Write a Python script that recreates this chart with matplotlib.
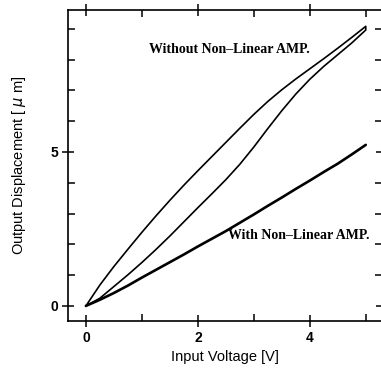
import matplotlib
matplotlib.use("Agg")
import matplotlib.pyplot as plt
from matplotlib.ticker import MultipleLocator, FixedLocator

# Input voltage samples [V]
voltage = [0, 0.25, 0.5, 0.75, 1.0, 1.25, 1.5, 1.75, 2.0, 2.25, 2.5,
           2.75, 3.0, 3.25, 3.5, 3.75, 4.0, 4.25, 4.5, 4.75, 5.0]
# Without non-linear amp: ascending (lower) and descending (upper) branch [um]
without_lower = [0, 0.25, 0.63, 1.01, 1.41, 1.83, 2.27, 2.73, 3.19, 3.64, 4.10,
                 4.60, 5.16, 5.76, 6.34, 6.88, 7.36, 7.78, 8.16, 8.54, 8.96]
without_upper = [0, 0.68, 1.28, 1.84, 2.39, 2.92, 3.43, 3.92, 4.39, 4.85, 5.31,
                 5.77, 6.22, 6.64, 7.02, 7.37, 7.70, 8.03, 8.37, 8.72, 9.08]
# With non-linear amp [um]
with_amp = [0, 0.20, 0.42, 0.66, 0.92, 1.17, 1.42, 1.67, 1.93, 2.18, 2.43,
            2.70, 2.97, 3.25, 3.52, 3.80, 4.07, 4.35, 4.62, 4.92, 5.23]

fig = plt.figure(figsize=(3.81, 3.68), dpi=100)
ax = fig.add_axes([68/381, 1 - 321/368, (382 - 68)/381, (321 - 10)/368])

loop_x = voltage + voltage[::-1]
loop_y = without_lower + without_upper[::-1]
ax.plot(loop_x, loop_y, color="black", lw=1.2, solid_joinstyle="round")
ax.plot(voltage, with_amp, color="black", lw=1.9, solid_capstyle="round")

ax.set_xlim(-0.32, 5.29)
ax.set_ylim(-0.49, 9.61)

ax.xaxis.set_major_locator(FixedLocator([0, 2, 4]))
ax.xaxis.set_minor_locator(MultipleLocator(1))
ax.yaxis.set_major_locator(FixedLocator([0, 5]))
ax.yaxis.set_minor_locator(MultipleLocator(1))

ax.tick_params(which="major", direction="inout", length=8, width=1.1,
               top=True, right=True, labelsize=10, pad=3)
ax.tick_params(which="minor", direction="in", length=5, width=1.1,
               top=True, right=True)
for lab in ax.get_xticklabels() + ax.get_yticklabels():
    lab.set_fontweight("bold")
    lab.set_family("Liberation Sans")

for sp in ax.spines.values():
    sp.set_linewidth(1.2)

ax.set_xlabel("Input Voltage [V]", fontsize=10.5, family="Liberation Sans", labelpad=4)
ax.set_ylabel("Output Displacement [ $\\mu$ m]", fontsize=10.5,
              family="Liberation Sans", labelpad=16)

ax.text(2.56, 8.34, "Without Non\u2013Linear AMP.", family="Liberation Serif",
        fontsize=10, ha="center", va="center", fontweight="bold")
ax.text(3.81, 2.3, "With Non\u2013Linear AMP.", family="Liberation Serif",
        fontsize=10, ha="center", va="center", fontweight="bold")

fig.savefig("out.png", dpi=100)
